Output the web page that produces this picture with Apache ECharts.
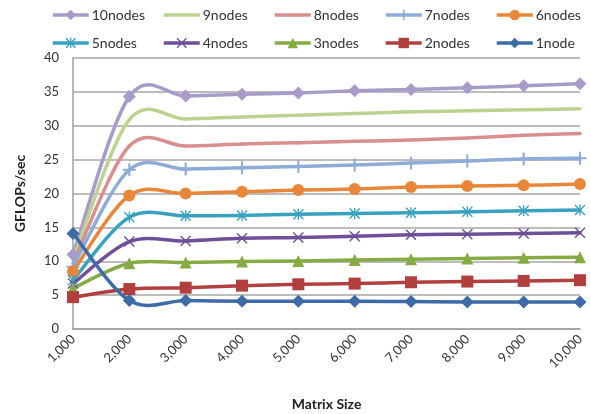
<!DOCTYPE html>
<html>
<head>
<meta charset="utf-8">
<script src="https://cdn.jsdelivr.net/npm/echarts@6/dist/echarts.min.js"></script>
<style>
  html, body { margin: 0; padding: 0; background: #fff; }
  #chart { width: 591px; height: 414px; }
</style>
</head>
<body>
<div id="chart"></div>
<script>
// Matrix sizes on the x axis
const categories = ['1,000', '2,000', '3,000', '4,000', '5,000', '6,000', '7,000', '8,000', '9,000', '10,000'];

// GFLOPs/sec per cluster size
const nodes10 = [11.0, 34.3, 34.4, 34.65, 34.85, 35.15, 35.35, 35.6, 35.9, 36.2];
const nodes9  = [10.3, 30.9, 31.0, 31.3, 31.55, 31.8, 32.05, 32.2, 32.35, 32.5];
const nodes8  = [9.7, 27.0, 27.0, 27.3, 27.5, 27.7, 27.9, 28.2, 28.6, 28.85];
const nodes7  = [9.2, 23.5, 23.6, 23.8, 24.0, 24.2, 24.5, 24.8, 25.1, 25.2];
const nodes6  = [8.5, 19.7, 20.0, 20.25, 20.5, 20.65, 20.95, 21.1, 21.2, 21.4];
const nodes5  = [7.2, 16.5, 16.7, 16.75, 16.95, 17.05, 17.15, 17.3, 17.45, 17.55];
const nodes4  = [6.7, 12.9, 13.0, 13.4, 13.5, 13.7, 13.9, 14.0, 14.1, 14.2];
const nodes3  = [6.0, 9.7, 9.8, 9.95, 10.05, 10.2, 10.3, 10.4, 10.5, 10.6];
const nodes2  = [4.7, 5.9, 6.1, 6.4, 6.6, 6.7, 6.9, 7.0, 7.1, 7.2];
const nodes1  = [14.1, 4.2, 4.2, 4.1, 4.1, 4.1, 4.05, 4.0, 4.0, 4.0];

const yTicks = { min: 0, max: 40, interval: 5 };

// Marker outlines drawn as filled paths
const PLUS = 'path://M4.2,0 L5.8,0 L5.8,4.2 L10,4.2 L10,5.8 L5.8,5.8 L5.8,10 L4.2,10 L4.2,5.8 L0,5.8 L0,4.2 L4.2,4.2 Z';
const CROSS = 'path://M0,0.9 L0.9,0 L10,9.1 L9.1,10 Z M9.1,0 L10,0.9 L0.9,10 L0,9.1 Z';
const STAR = 'path://M0,0.9 L0.9,0 L10,9.1 L9.1,10 Z M9.1,0 L10,0.9 L0.9,10 L0,9.1 Z M4.4,0 L5.6,0 L5.6,10 L4.4,10 Z';

const LINE_W = 3.5;

const seriesDefs = [
  { name: '10nodes', data: nodes10, color: '#a99bc9', symbol: 'diamond', size: 13 },
  { name: '9nodes',  data: nodes9,  color: '#bcd38f', symbol: 'none', size: 0 },
  { name: '8nodes',  data: nodes8,  color: '#d98f8d', symbol: 'none', size: 0 },
  { name: '7nodes',  data: nodes7,  color: '#8eacd8', symbol: PLUS, size: 13 },
  { name: '6nodes',  data: nodes6,  color: '#e8873a', symbol: 'circle', size: 12 },
  { name: '5nodes',  data: nodes5,  color: '#38a2bf', symbol: STAR, size: 11 },
  { name: '4nodes',  data: nodes4,  color: '#6e4f98', symbol: CROSS, size: 11 },
  { name: '3nodes',  data: nodes3,  color: '#87ab44', symbol: 'triangle', size: 12 },
  { name: '2nodes',  data: nodes2,  color: '#b03f3d', symbol: 'rect', size: 12 },
  { name: '1node',   data: nodes1,  color: '#3d6ba8', symbol: 'diamond', size: 13 }
];

const FONT = 'Lato, "Open Sans", sans-serif';

// Legend laid out as five columns of two entries
const legendColumns = [
  ['10nodes', '5nodes'],
  ['9nodes', '4nodes'],
  ['8nodes', '3nodes'],
  ['7nodes', '2nodes'],
  ['6nodes', '1node']
];
const legendLeft = [51, 162, 273, 384, 495];

const defOf = name => seriesDefs.find(s => s.name === name);

// Smoothed curve: one cubic Bezier per segment, tangents from neighbouring points
function curveSeries(def) {
  const vals = def.data;
  const last = vals.length - 1;
  return {
    type: 'custom',
    name: def.name + ' curve',
    data: vals.map((v, i) => [i, v]),
    encode: { x: 0, y: 1 },
    clip: false,
    silent: true,
    renderItem: (params, api) => {
      const i = params.dataIndex;
      if (i >= last) return null;
      const at = k => {
        const j = Math.max(0, Math.min(last, k));
        return api.coord([j, vals[j]]);
      };
      const p0 = at(i - 1), p1 = at(i), p2 = at(i + 1), p3 = at(i + 2);
      return {
        type: 'bezierCurve',
        shape: {
          x1: p1[0], y1: p1[1],
          x2: p2[0], y2: p2[1],
          cpx1: p1[0] + (p2[0] - p0[0]) / 6,
          cpy1: p1[1] + (p2[1] - p0[1]) / 6,
          cpx2: p2[0] - (p3[0] - p1[0]) / 6,
          cpy2: p2[1] - (p3[1] - p1[1]) / 6
        },
        style: { stroke: def.color, lineWidth: LINE_W, fill: null, lineCap: 'round' }
      };
    }
  };
}

// Markers at each data point
function markerSeries(def) {
  return {
    name: def.name,
    type: 'line',
    data: def.data,
    symbol: def.symbol,
    symbolSize: def.size,
    showAllSymbol: true,
    color: def.color,
    lineStyle: { width: 0, opacity: 0 },
    itemStyle: { color: def.color, borderWidth: 0 }
  };
}

const series = [];
seriesDefs.forEach(def => {
  series.push(curveSeries(def));
  series.push(markerSeries(def));
});

// Legend entry: coloured line, plus the marker where the series has one
function legendItem(name) {
  const def = defOf(name);
  const item = {
    name: name,
    lineStyle: { color: def.color, width: LINE_W, opacity: 1 }
  };
  if (def.symbol === 'none') {
    item.itemStyle = { opacity: 0 };
  }
  return item;
}

const chart = echarts.init(document.getElementById('chart'), null, { renderer: 'canvas' });

chart.setOption({
  backgroundColor: '#ffffff',
  animation: false,
  legend: legendColumns.map((col, i) => ({
    orient: 'vertical',
    left: legendLeft[i],
    top: 8,
    itemWidth: 36,
    itemHeight: 13,
    itemGap: 14,
    padding: 0,
    selectedMode: false,
    textStyle: { fontFamily: FONT, fontSize: 14, color: '#333', padding: [0, 0, 0, -2] },
    data: col.map(legendItem)
  })),
  grid: { left: 73, right: 11, top: 58, bottom: 85, containLabel: false, outerBoundsMode: 'none' },
  xAxis: {
    type: 'category',
    data: categories,
    boundaryGap: false,
    name: 'Matrix Size',
    nameLocation: 'middle',
    nameGap: 68,
    nameTextStyle: { fontFamily: FONT, fontSize: 14, fontWeight: 'bold', color: '#222' },
    axisLine: { lineStyle: { color: '#a0a0a0', width: 1.5 } },
    axisTick: { show: false },
    axisLabel: { rotate: 45, fontFamily: FONT, fontSize: 13, color: '#333', margin: 8 },
    splitLine: { show: false }
  },
  yAxis: {
    type: 'value',
    min: yTicks.min,
    max: yTicks.max,
    interval: yTicks.interval,
    name: 'GFLOPs/sec',
    nameLocation: 'middle',
    nameRotate: 90,
    nameGap: 46,
    nameTextStyle: { fontFamily: FONT, fontSize: 14, fontWeight: 'bold', color: '#222' },
    axisLine: { show: true, lineStyle: { color: '#a0a0a0', width: 1.5 } },
    axisTick: { show: false },
    axisLabel: { fontFamily: FONT, fontSize: 13, color: '#333', margin: 14 },
    splitLine: { lineStyle: { color: '#a6a6a6', width: 1.5 } }
  },
  series: series
});
</script>
</body>
</html>
